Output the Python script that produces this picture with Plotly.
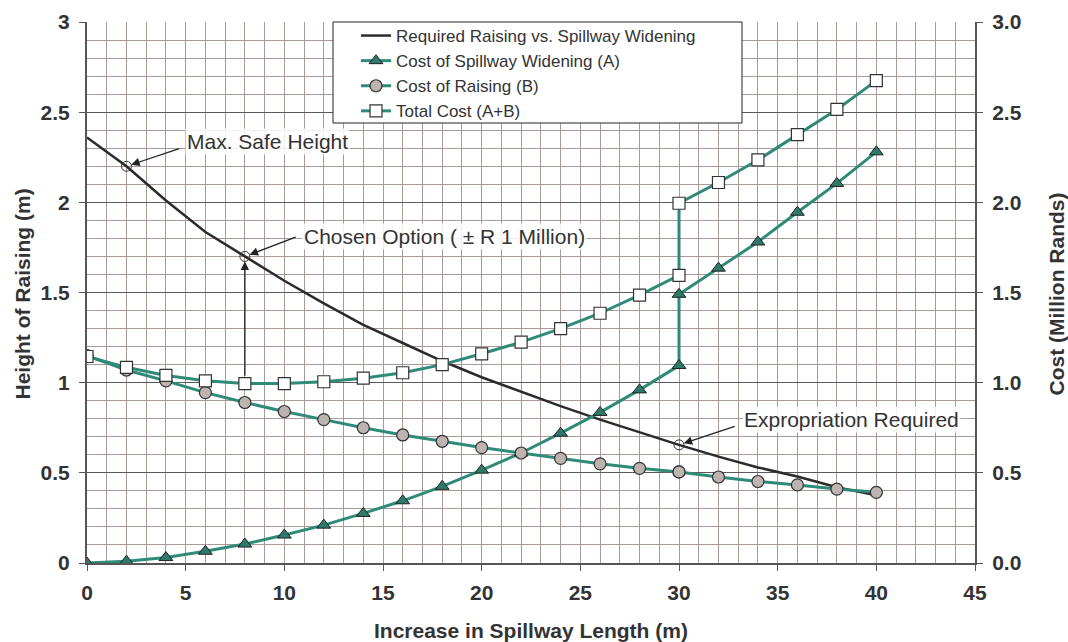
import plotly.graph_objects as go

# ---- data ----
x_vals = [0, 2, 4, 6, 8, 10, 12, 14, 16, 18, 20, 22, 24, 26, 28, 30, 32, 34, 36, 38, 40]
required_raising = [2.36, 2.20, 2.01, 1.835, 1.70, 1.565, 1.44, 1.32, 1.22, 1.12, 1.03,
                    0.95, 0.87, 0.795, 0.725, 0.655, 0.59, 0.53, 0.48, 0.42, 0.375]

x_cost = [0, 2, 4, 6, 8, 10, 12, 14, 16, 18, 20, 22, 24, 26, 28, 30, 30, 32, 34, 36, 38, 40]
cost_widening = [0.0, 0.01, 0.03, 0.065, 0.105, 0.155, 0.21, 0.275, 0.345, 0.425, 0.515,
                 0.61, 0.72, 0.835, 0.96, 1.095, 1.49, 1.635, 1.78, 1.945, 2.105, 2.28]
cost_raising = [1.15, 1.07, 1.01, 0.945, 0.89, 0.84, 0.795, 0.75, 0.71, 0.675, 0.64,
                0.61, 0.58, 0.55, 0.525, 0.505, 0.505, 0.477, 0.452, 0.433, 0.41, 0.392]
total_cost = [1.145, 1.085, 1.04, 1.01, 0.995, 0.995, 1.005, 1.025, 1.055, 1.10, 1.16,
              1.225, 1.30, 1.385, 1.485, 1.595, 1.995, 2.11, 2.235, 2.375, 2.515, 2.675]

# highlighted points on the raising curve
mark_x = [2, 8, 30]
mark_y = [2.20, 1.70, 0.655]

x_ticks = [0, 5, 10, 15, 20, 25, 30, 35, 40, 45]
y_ticks = [0, 0.5, 1, 1.5, 2, 2.5, 3]
y_left_labels = ["0", "0.5", "1", "1.5", "2", "2.5", "3"]

TEAL = "#2f8a78"
DARK = "#2b2b2b"
FONT = "Liberation Sans"
TXT = "#333333"

L, T, R, B = 87, 22, 93, 79
plot_w = 1068 - L - R
plot_h = 642 - T - B

fig = go.Figure()

fig.add_trace(go.Scatter(
    x=x_vals, y=required_raising, mode="lines", name="Required Raising vs. Spillway Widening",
    line=dict(color=DARK, width=2.5), yaxis="y"))

fig.add_trace(go.Scatter(
    x=x_cost, y=cost_widening, mode="lines+markers", name="Cost of Spillway Widening (A)",
    line=dict(color=TEAL, width=3),
    marker=dict(symbol="triangle-up", size=12, color="#2e7a6a", line=dict(color="#222", width=1)),
    yaxis="y2"))

fig.add_trace(go.Scatter(
    x=x_cost, y=cost_raising, mode="lines+markers", name="Cost of Raising (B)",
    line=dict(color=TEAL, width=3),
    marker=dict(symbol="circle", size=12, color="#bdb4b0", line=dict(color="#333", width=1.2)),
    yaxis="y2"))

fig.add_trace(go.Scatter(
    x=x_cost, y=total_cost, mode="lines+markers", name="Total Cost (A+B)",
    line=dict(color=TEAL, width=3),
    marker=dict(symbol="square", size=12, color="white", line=dict(color="#333", width=1.2)),
    yaxis="y2"))

fig.add_trace(go.Scatter(
    x=mark_x, y=mark_y, mode="markers", showlegend=False,
    marker=dict(symbol="circle-open", size=10, color="#333", line=dict(width=1)),
    yaxis="y"))

ann_font = dict(family=FONT, size=21, color=TXT)
title_font = dict(family=FONT, size=21, color=TXT, weight="bold")
annotations = []
# text labels
for tx, ty, t in [(9.15, 2.34, "Max. Safe Height"),
                  (18.1, 1.81, "Chosen Option ( ± R 1 Million)"),
                  (38.75, 0.795, "Expropriation Required")]:
    annotations.append(dict(x=tx, y=ty, xref="x", yref="y", text=t, showarrow=False,
                            font=ann_font, bgcolor="rgba(255,255,255,0.85)", borderpad=1))
# arrows
for hx, hy, tx, ty in [(2, 2.20, 4.75, 2.30),
                       (8, 1.70, 10.65, 1.81),
                       (8, 1.70, 8, 1.03),
                       (30, 0.655, 32.9, 0.76)]:
    annotations.append(dict(x=hx, y=hy, xref="x", yref="y", ax=tx, ay=ty, axref="x", ayref="y",
                            text="", showarrow=True, arrowhead=2, arrowsize=1.3, arrowwidth=1.3,
                            arrowcolor="#222", standoff=5))
# axis titles
annotations.append(dict(x=0, y=0.5, xref="paper", yref="paper", xshift=-65, yshift=-2,
                        text="Height of Raising (m)", textangle=-90, showarrow=False,
                        font=title_font, xanchor="center", yanchor="middle"))
annotations.append(dict(x=1, y=0.5, xref="paper", yref="paper", xshift=81, yshift=-2,
                        text="Cost (Million Rands)", textangle=-90, showarrow=False,
                        font=title_font, xanchor="center", yanchor="middle"))
annotations.append(dict(x=0.5, y=0, xref="paper", yref="paper", yshift=-67,
                        text="Increase in Spillway Length (m)", showarrow=False,
                        font=title_font, xanchor="center", yanchor="middle"))

# legend frame (333..742 px horizontally, 22..123 px vertically)
shapes = [dict(type="rect", xref="paper", yref="paper",
               x0=(333 - L) / plot_w, x1=(742 - L) / plot_w,
               y0=1 - (123 - T) / plot_h, y1=1.0,
               fillcolor="white", line=dict(color="#222", width=1), layer="above")]

fig.update_layout(
    width=1068, height=642,
    margin=dict(l=L, r=R, t=T, b=B, autoexpand=False),
    paper_bgcolor="white", plot_bgcolor="white",
    font=dict(family=FONT, color=TXT),
    showlegend=True,
    legend=dict(x=(356 - L) / plot_w, y=1.0 + 4 / plot_h, xanchor="left", yanchor="top",
                bgcolor="rgba(0,0,0,0)", borderwidth=0,
                font=dict(family=FONT, size=17, color=TXT), tracegroupgap=0),
    annotations=annotations,
    shapes=shapes,
    xaxis=dict(range=[0, 45], tickvals=x_ticks, ticks="outside", ticklen=6, tickcolor="#555",
               showline=True, linecolor="#555", linewidth=2, automargin=False,
               showgrid=True, gridcolor="#a89a96", gridwidth=1,
               minor=dict(dtick=1, tick0=0, showgrid=True, gridcolor="#a89a96", gridwidth=1),
               tickfont=dict(family=FONT, size=21, color=TXT, weight="bold"),
               ticklabelstandoff=4, zeroline=False),
    yaxis=dict(range=[0, 3], tickvals=y_ticks, ticktext=y_left_labels,
               ticks="outside", ticklen=6, tickcolor="#555", automargin=False,
               showline=True, linecolor="#555", linewidth=2,
               showgrid=True, gridcolor="#5a5a5a", gridwidth=1,
               minor=dict(dtick=0.1, tick0=0, showgrid=True, gridcolor="#a89a96", gridwidth=1),
               tickfont=dict(family=FONT, size=21, color=TXT, weight="bold"),
               ticklabelstandoff=5, zeroline=False),
    yaxis2=dict(range=[0, 3], tickvals=y_ticks, tickformat=".1f", overlaying="y", side="right",
                ticks="outside", ticklen=6, tickcolor="#555", automargin=False,
                showline=True, linecolor="#555", linewidth=2, showgrid=False, zeroline=False,
                tickfont=dict(family=FONT, size=21, color=TXT, weight="bold"),
                ticklabelstandoff=5),
)

fig.write_html(
    "out.html",
    config={"displayModeBar": False},
    post_script="document.documentElement.style.margin='0';document.body.style.margin='0';"
                "document.body.style.overflow='hidden';document.documentElement.style.overflow='hidden';",
)
